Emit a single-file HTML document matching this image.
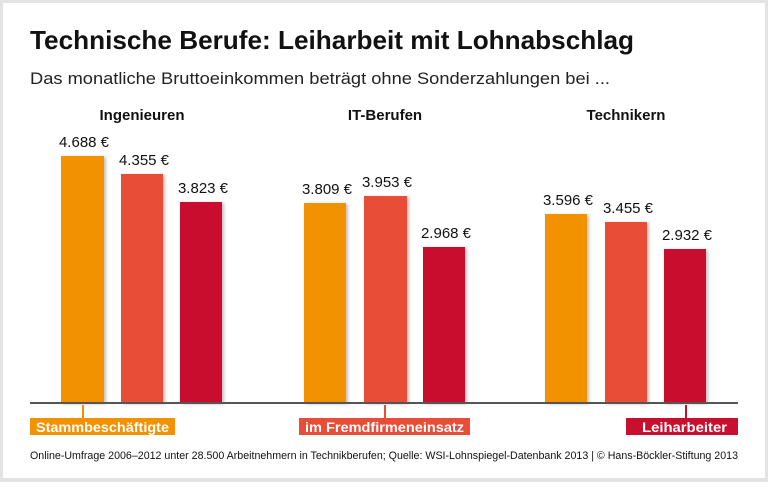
<!DOCTYPE html>
<html><head><meta charset="utf-8"><style>
body{margin:0;}
</style></head><body>
<svg width="768" height="482" xmlns="http://www.w3.org/2000/svg" font-family="Liberation Sans, sans-serif">
<defs><filter id="s" x="-20%" y="-20%" width="150%" height="150%"><feDropShadow dx="2" dy="1" stdDeviation="1.5" flood-color="#000" flood-opacity="0.25"/></filter></defs>
<rect x="0" y="0" width="768" height="482" fill="#e3e3e3"/>
<rect x="3" y="3" width="762" height="475" fill="#fff"/>
<text x="30" y="49" font-size="26" font-weight="bold" fill="#111" textLength="604" lengthAdjust="spacingAndGlyphs">Technische Berufe: Leiharbeit mit Lohnabschlag</text>
<text x="30" y="84" font-size="17" fill="#222" textLength="580" lengthAdjust="spacingAndGlyphs">Das monatliche Bruttoeinkommen beträgt ohne Sonderzahlungen bei ...</text>
<g font-size="15" font-weight="bold" fill="#111" text-anchor="middle">
<text x="142" y="120">Ingenieuren</text><text x="385" y="120">IT-Berufen</text><text x="626" y="120">Technikern</text></g>
<g filter="url(#s)">
<rect x="61" y="156" width="43" height="247" fill="#f39200"/>
<rect x="121" y="174" width="42" height="229" fill="#e84e37"/>
<rect x="180" y="202" width="42" height="201" fill="#c8102e"/>
<rect x="304" y="203" width="42" height="200" fill="#f39200"/>
<rect x="364" y="196" width="43" height="207" fill="#e84e37"/>
<rect x="423" y="247" width="42" height="156" fill="#c8102e"/>
<rect x="545" y="214" width="42" height="189" fill="#f39200"/>
<rect x="605" y="222" width="42" height="181" fill="#e84e37"/>
<rect x="664" y="249" width="42" height="154" fill="#c8102e"/>
</g>
<g font-size="15" fill="#111" text-anchor="middle">
<text x="84" y="147">4.688 €</text><text x="144" y="165">4.355 €</text><text x="203" y="193">3.823 €</text>
<text x="327" y="194">3.809 €</text><text x="387" y="187">3.953 €</text><text x="446" y="238">2.968 €</text>
<text x="568" y="205">3.596 €</text><text x="628" y="213">3.455 €</text><text x="687" y="240">2.932 €</text>
</g>
<rect x="30" y="402" width="708" height="2" fill="#555"/>
<rect x="82" y="405" width="2" height="13" fill="#f39200"/>
<rect x="384" y="405" width="2" height="13" fill="#e84e37"/>
<rect x="685" y="405" width="2" height="13" fill="#c8102e"/>
<rect x="30" y="418" width="145" height="17" fill="#f39200"/>
<rect x="299" y="418" width="171" height="17" fill="#e84e37"/>
<rect x="626" y="418" width="112" height="17" fill="#c8102e"/>
<g font-size="14" font-weight="bold" fill="#fff">
<text x="36" y="432" textLength="133" lengthAdjust="spacingAndGlyphs">Stammbeschäftigte</text>
<text x="305" y="432" textLength="159" lengthAdjust="spacingAndGlyphs">im Fremdfirmeneinsatz</text>
<text x="642" y="432" textLength="85" lengthAdjust="spacingAndGlyphs">Leiharbeiter</text></g>
<text x="30" y="459" font-size="11" fill="#111" textLength="708" lengthAdjust="spacingAndGlyphs">Online-Umfrage 2006–2012 unter 28.500 Arbeitnehmern in Technikberufen; Quelle: WSI-Lohnspiegel-Datenbank 2013 | © Hans-Böckler-Stiftung 2013</text>
</svg>
</body></html>
